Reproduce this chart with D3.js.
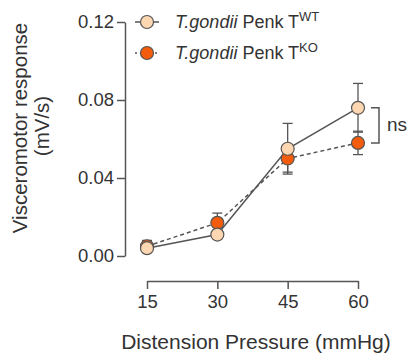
<!DOCTYPE html>
<html>
<head>
<meta charset="utf-8">
<script src="https://cdn.jsdelivr.net/npm/d3@7"></script>
<style>
  body { margin: 0; background: #fff; }
  text { font-family: "Liberation Sans", Arial, sans-serif; fill: #333; }
</style>
</head>
<body>
<div id="chart"></div>
<script>
// pressures (mmHg)
const pressures = [15, 30, 45, 60];
// mean responses and SEM (mV/s)
const wtMean = [0.004, 0.011, 0.055, 0.076];
const wtSem  = [0.002, 0.002, 0.013, 0.0125];
const koMean = [0.005, 0.017, 0.050, 0.058];
const koSem  = [0.003, 0.005, 0.007, 0.006];
const yTicks = [0, 0.04, 0.08, 0.12];

const width = 411, height = 356;

const svg = d3.select("#chart").append("svg")
    .attr("width", width)
    .attr("height", height);

// scales
const x = d3.scalePoint()
    .domain(pressures)
    .range([147, 358]);
const y = d3.scaleLinear()
    .domain([0, 0.12])
    .range([256, 22]);

// y axis
const yAxis = svg.append("g")
    .attr("transform", "translate(125,0)")
    .call(d3.axisLeft(y).tickValues(yTicks).tickFormat(d3.format(".2f")).tickSize(8).tickSizeOuter(0));
yAxis.select(".domain").attr("stroke", "#555").attr("stroke-width", 1.5);
yAxis.selectAll(".tick line").attr("stroke", "#555").attr("stroke-width", 1.5);
yAxis.selectAll(".tick text").attr("x", -11).style("font-size", "18.5px").style("font-family", "Liberation Sans, Arial, sans-serif").attr("fill", "#333");

// x axis (offset from the plot)
const xAxis = svg.append("g")
    .attr("transform", "translate(0,281)")
    .call(d3.axisBottom(x).tickSize(8).tickSizeOuter(0));
xAxis.select(".domain").attr("stroke", "#555").attr("stroke-width", 1.5);
xAxis.selectAll(".tick line").attr("stroke", "#555").attr("stroke-width", 1.5);
xAxis.selectAll(".tick text").attr("y", 14).style("font-size", "18.5px").style("font-family", "Liberation Sans, Arial, sans-serif").attr("fill", "#333");

// axis titles
svg.append("text")
    .attr("x", 256).attr("y", 349)
    .attr("text-anchor", "middle")
    .style("font-size", "21px")
    .text("Distension Pressure (mmHg)");

svg.append("text")
    .attr("transform", "translate(27,128) rotate(-90)")
    .attr("text-anchor", "middle")
    .style("font-size", "20.5px")
    .text("Visceromotor response");
svg.append("text")
    .attr("transform", "translate(49,126) rotate(-90)")
    .attr("text-anchor", "middle")
    .style("font-size", "20.5px")
    .text("(mV/s)");

const series = [
    {name: "WT", mean: wtMean, sem: wtSem, fill: "#fdd6b2", dash: null},
    {name: "KO", mean: koMean, sem: koSem, fill: "#f25c0c", dash: "4,3"}
];

const line = d3.line()
    .x(function(d, i) { return x(pressures[i]); })
    .y(function(d) { return y(d); });

// error bars
series.forEach(function(s) {
    const g = svg.append("g");
    s.mean.forEach(function(m, i) {
        const cx = x(pressures[i]);
        const top = y(m + s.sem[i]), bot = y(m - s.sem[i]);
        g.append("line").attr("x1", cx).attr("x2", cx).attr("y1", top).attr("y2", bot)
            .attr("stroke", "#555").attr("stroke-width", 1.3);
        [top, bot].forEach(function(yy) {
            g.append("line").attr("x1", cx - 5).attr("x2", cx + 5).attr("y1", yy).attr("y2", yy)
                .attr("stroke", "#555").attr("stroke-width", 1.3);
        });
    });
});

// lines
series.forEach(function(s) {
    svg.append("path")
        .attr("d", line(s.mean))
        .attr("fill", "none")
        .attr("stroke", "#555")
        .attr("stroke-width", 1.5)
        .attr("stroke-dasharray", s.dash);
});

// markers (KO under WT)
series.slice().reverse().forEach(function(s) {
    svg.selectAll(null)
        .data(s.mean)
        .enter().append("circle")
        .attr("cx", function(d, i) { return x(pressures[i]); })
        .attr("cy", function(d) { return y(d); })
        .attr("r", 6.5)
        .attr("fill", s.fill)
        .attr("stroke", "#555")
        .attr("stroke-width", 1.2);
});

// legend
const legend = svg.selectAll(".legend")
    .data(series)
    .enter().append("g")
    .attr("class", "legend")
    .attr("transform", function(d, i) { return "translate(0," + (22 + i * 31) + ")"; });

legend.append("line")
    .attr("x1", 135).attr("x2", 159)
    .attr("stroke", "#555").attr("stroke-width", 1.5)
    .attr("stroke-dasharray", function(d) { return d.dash ? "2,3" : null; });
legend.append("circle")
    .attr("cx", 147).attr("r", 6.5)
    .attr("fill", function(d) { return d.fill; })
    .attr("stroke", "#555").attr("stroke-width", 1.2);

const lt = legend.append("text")
    .attr("x", 175).attr("y", 6)
    .style("font-size", "18px");
lt.append("tspan").style("font-style", "italic").text("T.gondii");
lt.append("tspan").text(" Penk T");
lt.append("tspan").attr("dy", -7).style("font-size", "13px").text(function(d) { return d.name; });

// ns bracket between last points
const bx = 379;
svg.append("path")
    .attr("d", "M" + (bx - 8) + "," + y(wtMean[3]) + "H" + bx + "V" + y(koMean[3]) + "H" + (bx - 8))
    .attr("fill", "none").attr("stroke", "#555").attr("stroke-width", 1.5);
svg.append("text")
    .attr("x", 387).attr("y", (y(wtMean[3]) + y(koMean[3])) / 2 + 6)
    .style("font-size", "19px")
    .text("ns");
</script>
</body>
</html>
